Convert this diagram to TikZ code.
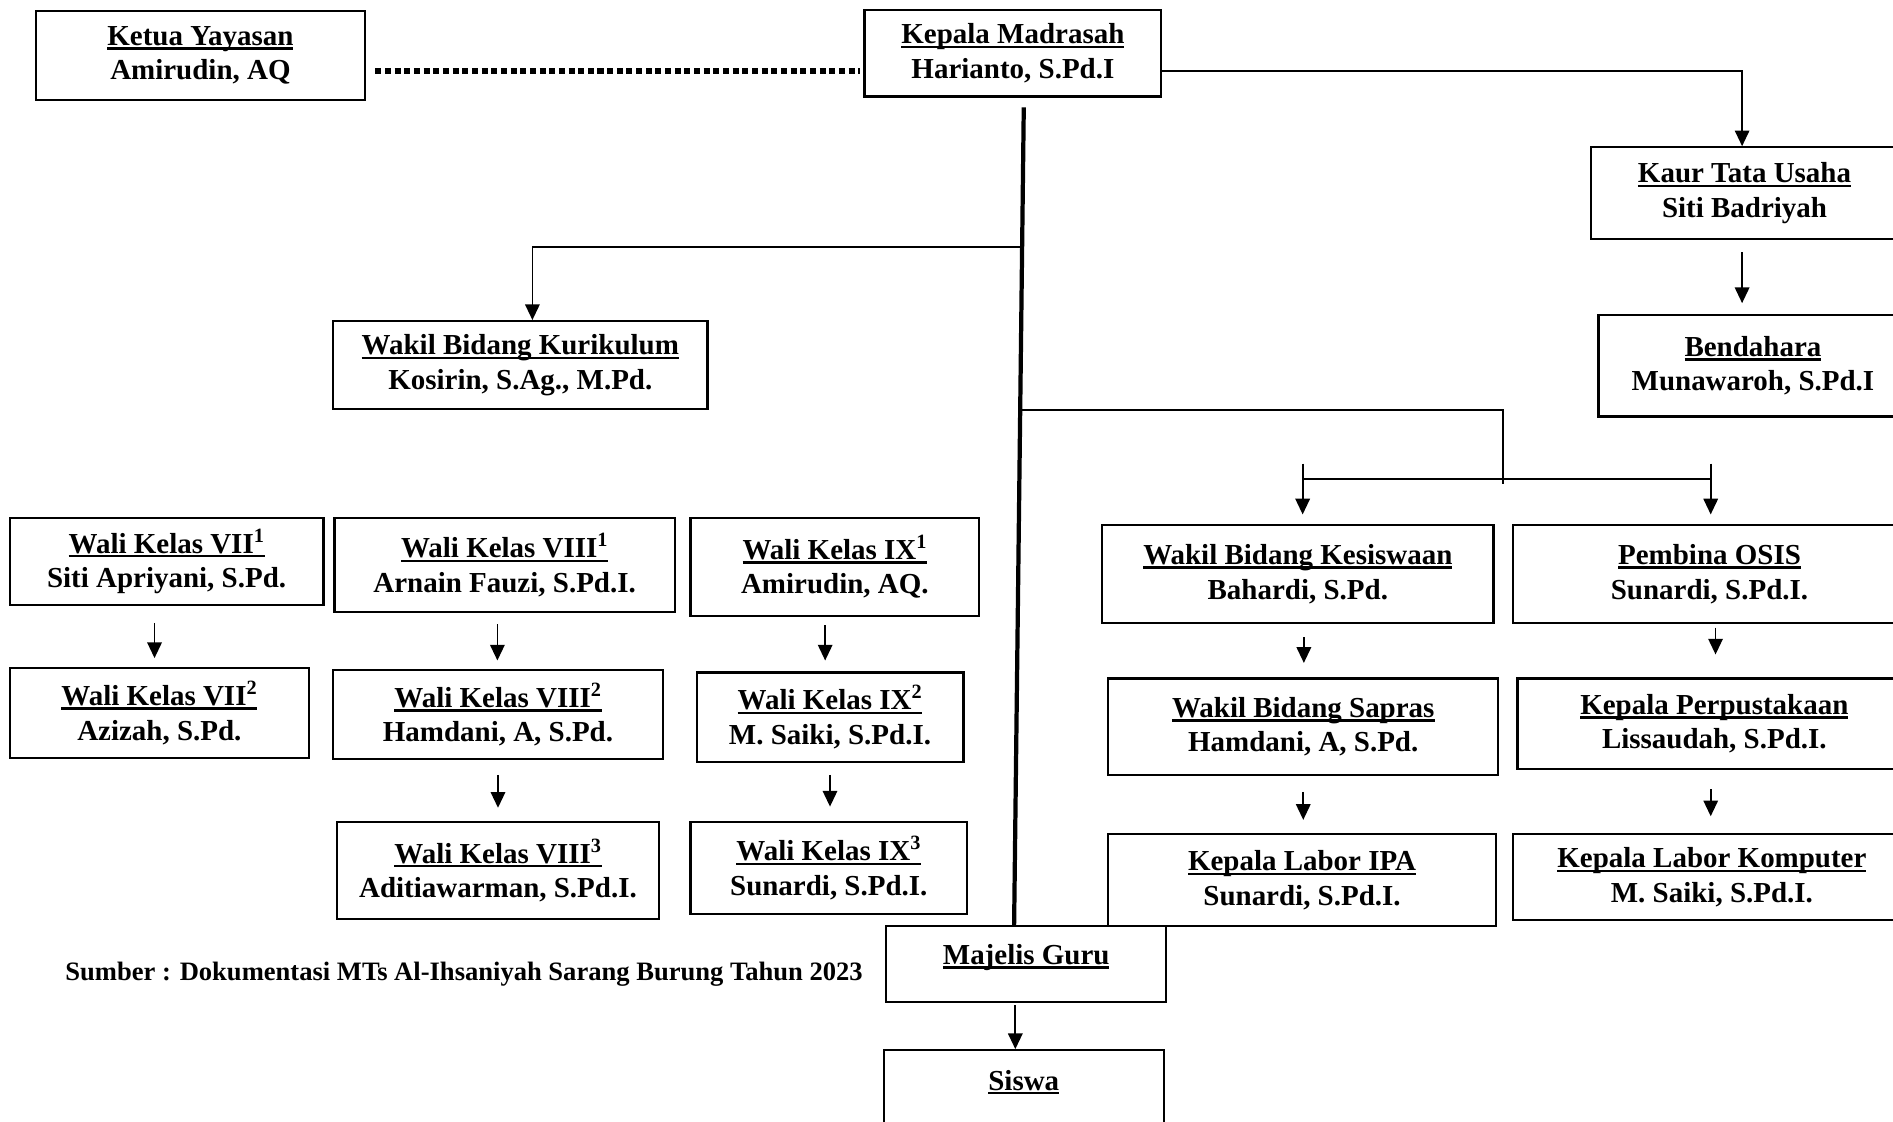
\documentclass[tikz,border=0pt]{standalone}
\usepackage{fontspec}
\setmainfont{Liberation Serif}
\usetikzlibrary{arrows.meta,calc}
\newcommand{\ttl}[1]{\setbox0\hbox{#1}\rlap{\rule[-3.5pt]{\wd0}{2pt}}\box0}

\begin{document}
\begin{tikzpicture}[x=1pt,y=-1pt,
  box/.style={draw,line width=1.8pt,align=center,inner sep=0pt,font=\fontsize{24}{28.5}\selectfont\bfseries},
  arr/.style={line width=1.4pt,-{Triangle[length=13pt,width=12pt]}},
  ln/.style={line width=1.4pt}]
  \useasboundingbox (0,0) rectangle (1568,929);
  \clip (0,0) rectangle (1568,929);
  \foreach \n/\x/\y/\w/\h/\a/\b in {
    ketua/166/46/272/74/{Ketua Yayasan}/{Amirudin, AQ},
    kepala/839/44/246/72/{Kepala Madrasah}/{Harianto, S.Pd.I},
    kaur/1445/160/254/76/{Kaur Tata Usaha}/{Siti Badriyah},
    bend/1452/303/256/84/{Bendahara}/{Munawaroh, S.Pd.I},
    kurik/431/302.5/310/73/{Wakil Bidang Kurikulum}/{Kosirin, S.Ag., M.Pd.},
    vii1/138/465/260/72/{Wali Kelas VII\textsuperscript{1}}/{Siti Apriyani, S.Pd.},
    viii1/418/468/282/78/{Wali Kelas VIII\textsuperscript{1}}/{Arnain Fauzi, S.Pd.I.},
    ix1/691.5/469.5/239/81/{Wali Kelas IX\textsuperscript{1}}/{Amirudin, AQ.},
    vii2/132/590.5/248/75/{Wali Kelas VII\textsuperscript{2}}/{Azizah, S.Pd.},
    viii2/412.5/592/273/74/{Wali Kelas VIII\textsuperscript{2}}/{Hamdani, A, S.Pd.},
    ix2/687.5/594/221/74/{Wali Kelas IX\textsuperscript{2}}/{M. Saiki, S.Pd.I.},
    viii3/412.5/721/267/80/{Wali Kelas VIII\textsuperscript{3}}/{Aditiawarman, S.Pd.I.},
    ix3/686.5/719/229/76/{Wali Kelas IX\textsuperscript{3}}/{Sunardi, S.Pd.I.},
    kesis/1075/475.5/324/81/{Wakil Bidang Kesiswaan}/{Bahardi, S.Pd.},
    osis/1416/475.5/326/81/{Pembina OSIS}/{Sunardi, S.Pd.I.},
    sapras/1079.5/602/323/80/{Wakil Bidang Sapras}/{Hamdani, A, S.Pd.},
    pustaka/1420/599.5/326/75/{Kepala Perpustakaan}/{Lissaudah, S.Pd.I.},
    ipa/1078.5/729/321/76/{Kepala Labor IPA}/{Sunardi, S.Pd.I.},
    komp/1418/726.5/330/71/{Kepala Labor Komputer}/{M. Saiki, S.Pd.I.}}{
    \node[box,minimum width=\w pt,minimum height=\h pt] (\n) at (\x,\y) {\ttl{\a}\\\b};
  }
  \node[box,anchor=north,minimum width=232pt,text height=32pt,text depth=31pt] (guru) at (850,766) {\ttl{Majelis Guru}};
  \node[box,anchor=north,minimum width=232pt,text height=33pt,text depth=40pt] (siswa) at (848,869) {\ttl{Siswa}};
  \node[anchor=west,inner sep=0pt,font=\fontsize{22}{26}\selectfont\bfseries] (src) at (54,807)
    {Sumber : Dokumentasi MTs Al-Ihsaniyah Sarang Burung Tahun 2023};
  % garis koordinasi
  \draw[line width=5pt,dash pattern=on 5pt off 3pt] ($(ketua.east)+(8,13)$) -- ($(kepala.west)+(-3,15)$);
  \draw[arr] ($(kepala.east)+(0,15)$) -| ([xshift=-2pt]kaur.north);
  \coordinate (top) at ($(kepala.south)+(9,8)$);
  \coordinate (bot) at ($(guru.north)+(-10,0)$);
  \draw[line width=3.5pt] (top) -- (bot);
  \draw[arr] ($(top)!0.171!(bot)$) -| ([xshift=10pt]kurik.north);
  \coordinate (split) at (1245,397);
  \draw[ln] ($(top)!0.370!(bot)$) -| ($(split)+(0,4)$);
  \draw[ln] ($(kesis.north |- split)+(4,0)$) -- ($(osis.north |- split)+(1,0)$);
  \foreach \n/\dx in {kesis/4,osis/1}
    \draw[arr] ($(\n.north)+(\dx,-50)$) -- ($(\n.north)+(\dx,-8)$);
  \foreach \a/\b/\dx/\s/\e in {vii1/vii2/-10/14/7, viii1/viii2/-6/9/7, viii2/viii3/0/12/11,
    ix1/ix2/-8/7/9, ix2/ix3/0/10/12, kaur/bend/-2/10/9, kesis/sapras/5/11/12,
    sapras/ipa/0/13/11, osis/pustaka/5/3/19, pustaka/komp/-3/16/14, guru/siswa/-9/2/0}
    \draw[arr] ($(\a.south)+(\dx,\s)$) -- ($(\b.north -| \a.south)+(\dx,-\e)$);
\end{tikzpicture}
\end{document}
